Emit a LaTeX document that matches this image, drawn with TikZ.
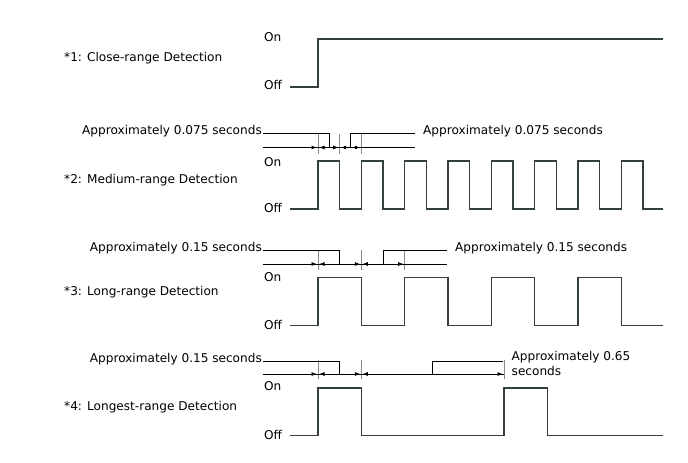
\documentclass[tikz,border=0pt]{standalone}
\usepackage{fontspec}
\setmainfont{DejaVu Sans}
\usetikzlibrary{arrows.meta}
\definecolor{sigc}{HTML}{34403A}
\definecolor{tickc}{HTML}{8A8A8A}
\tikzset{
  sig/.style={draw=sigc, line width=1.5pt, line join=miter},
  dimln/.style={draw=black, line width=0.6pt},
  tickln/.style={draw=tickc, line width=0.9pt},
  arr/.style={dimln, -{Latex[length=5pt,width=4pt]}, shorten >=1.5pt},
  darr/.style={dimln, {Latex[length=5pt,width=4pt]}-{Latex[length=5pt,width=4pt]}, shorten >=1.5pt, shorten <=1.5pt},
  txt/.style={inner sep=0pt, font=\fontsize{12.1}{15}\selectfont},
  lbl/.style={txt, anchor=west},
}
\begin{document}
\begin{tikzpicture}[x=1pt,y=-1pt]
\useasboundingbox (0,0) rectangle (688,463);

% ---------- Plot 1 ----------
\node[lbl] (n1) at (64,58) {*1: Close-range Detection};
\node[lbl] (on1) at (264,37) {On};
\node[lbl] (off1) at (264,85) {Off};
\draw[sig] (290,87) -- (318,87) -- (318,39) -- (663,39);

% ---------- Plot 2 ----------
\node[lbl] (n2) at (64,180) {*2: Medium-range Detection};
\node[lbl] (on2) at (264,162) {On};
\node[lbl] (off2) at (264,208) {Off};
\draw[sig] (290,209) foreach \k in {0,...,7}{ -- ({318+43.333*\k},209) -- ++(0,-48) -- ++(21.667,0) -- ++(0,48)} -- (663,209);
\coordinate (t21) at (318,147.5);
\coordinate (t22) at (339.7,147.5);
\coordinate (t23) at (361.3,147.5);
\foreach \c in {t21,t22,t23}{\draw[tickln] ([yshift=-6pt]\c) -- ([yshift=13.5pt]\c);}
\coordinate (d2s) at (263,147.5);
\coordinate (d2e) at (415,147.5);
\draw[dimln] (d2s) -- (d2e);
\draw[arr] (305,147.5) -- (t21);
\draw[darr] (t21) -- (t22);
\draw[darr] (t22) -- (t23);
\node[txt, anchor=base east] (a2l) at (262,134.5) {Approximately 0.075 seconds};
\node[txt, anchor=base west] (a2r) at (423,134.5) {Approximately 0.075 seconds};
\coordinate (m21) at (328.8,147.5);
\coordinate (m22) at (350.5,147.5);
\draw[dimln] (263,133.5) -| (m21);
\draw[dimln] (m22) |- (415,133.5);

% ---------- Plot 3 ----------
\node[lbl] (n3) at (64,292) {*3: Long-range Detection};
\node[lbl] (on3) at (264,277) {On};
\node[lbl] (off3) at (264,325) {Off};
\draw[sig] (290,325.5) foreach \k in {0,...,3}{ -- ({318+86.667*\k},325.5) -- ++(0,-47.8) -- ++(43.333,0) -- ++(0,47.8)} -- (663,325.5);
\coordinate (t31) at (318,264);
\coordinate (t32) at (361.3,264);
\coordinate (t33) at (404.7,264);
\foreach \c in {t31,t32,t33}{\draw[tickln] ([yshift=-6pt]\c) -- ([yshift=13.7pt]\c);}
\draw[dimln] (263,264) -- (446.5,264);
\draw[arr] (305,264) -- (t31);
\draw[darr] (t31) -- (t32);
\draw[darr] (t32) -- (t33);
\node[txt, anchor=base east] (a3l) at (262,251.5) {Approximately 0.15 seconds};
\node[txt, anchor=base west] (a3r) at (455,251.5) {Approximately 0.15 seconds};
\coordinate (m31) at (339.6,264);
\coordinate (m32) at (383,264);
\draw[dimln] (263,250.5) -| (m31);
\draw[dimln] (m32) |- (446.5,250.5);

% ---------- Plot 4 ----------
\node[lbl] (n4) at (64,407) {*4: Longest-range Detection};
\node[lbl] (on4) at (264,386) {On};
\node[lbl] (off4) at (264,435) {Off};
\draw[sig] (290,435.5) -- (318,435.5) -- (318,388) -- (361.3,388) -- (361.3,435.5) -- (504,435.5) -- (504,388) -- (547.3,388) -- (547.3,435.5) -- (663,435.5);
\coordinate (t41) at (318,374);
\coordinate (t42) at (361.3,374);
\coordinate (t43) at (504,374);
\foreach \c in {t41,t42,t43}{\draw[tickln] ([yshift=-5pt]\c) -- ([yshift=14pt]\c);}
\draw[dimln] (263,374) -- (t43);
\draw[arr] (305,374) -- (t41);
\draw[darr] (t41) -- (t42);
\draw[darr] (t42) -- (t43);
\node[txt, anchor=base east] (a4l) at (262,362) {Approximately 0.15 seconds};
\node[txt, anchor=north west, align=left, font=\fontsize{12.1}{15}\selectfont] (a4r) at (511.5,351) {Approximately 0.65\\seconds};
\coordinate (m41) at (339.6,374);
\coordinate (m42) at (432.5,374);
\draw[dimln] (263,361) -| (m41);
\draw[dimln] (m42) |- (503.3,361);
\end{tikzpicture}
\end{document}
